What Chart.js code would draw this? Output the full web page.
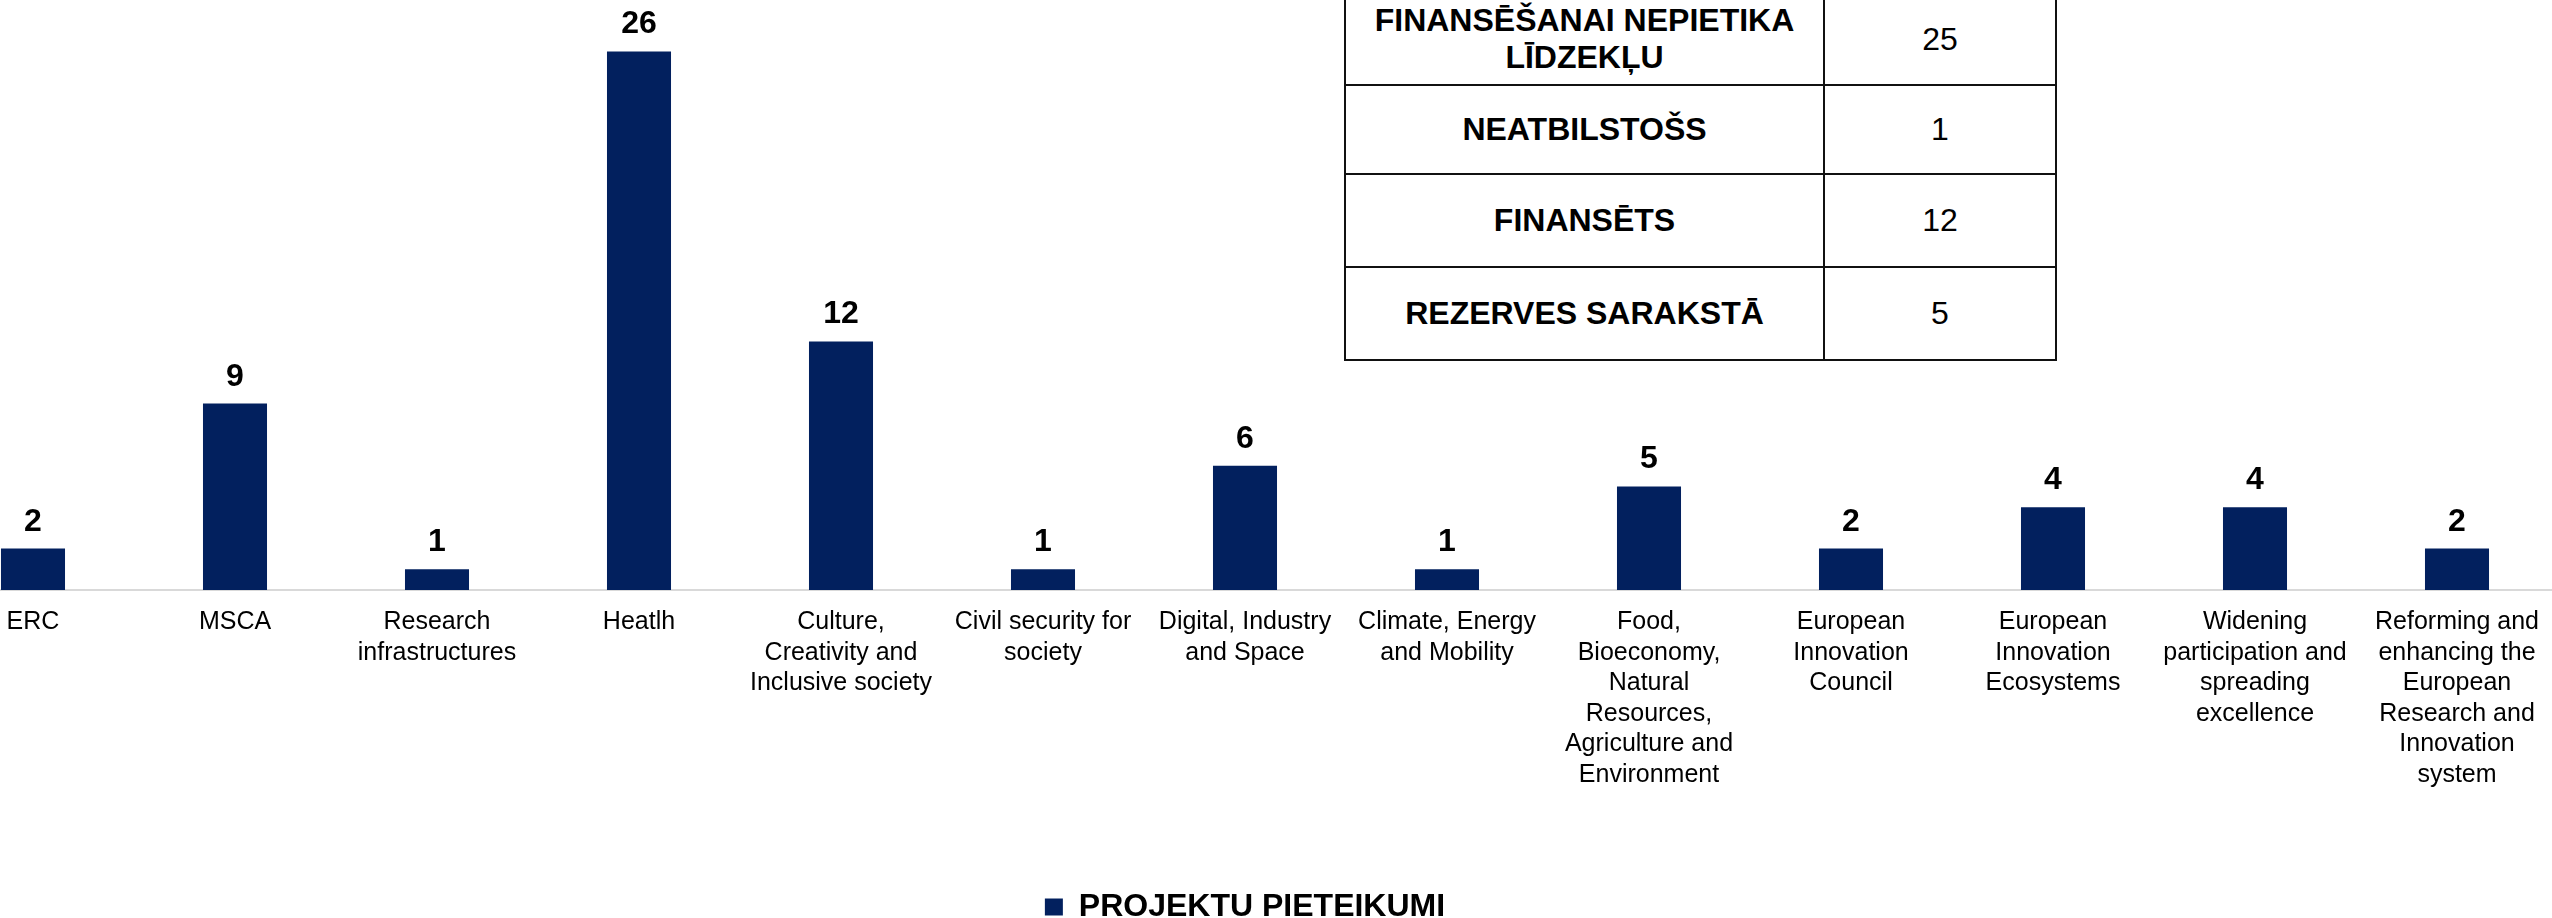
<!DOCTYPE html>
<html>
<head>
<meta charset="utf-8">
<script src="https://cdn.jsdelivr.net/npm/chart.js@4"></script>
<style>
  html, body { margin: 0; padding: 0; background: #fff; overflow: hidden; }
  body { width: 2552px; height: 918px; position: relative; font-family: "Liberation Sans", Arial, sans-serif; }
  #wrap { position: absolute; left: -68px; top: 0; width: 2626px; height: 933px; }
  #statusTable {
    position: absolute; left: 1344px; top: -8px;
    border-collapse: collapse; background: #fff; color: #000;
  }
  #statusTable td { border: 2px solid #111; text-align: center; padding: 0; font-size: 32px; line-height: 37px; }
  #statusTable td.name { width: 477px; font-weight: bold; }
  #statusTable td.val { width: 230px; }
</style>
</head>
<body>
<div id="wrap"><canvas id="chart"></canvas></div>
<table id="statusTable"></table>
<script>
const categories = [
  'ERC',
  'MSCA',
  ['Research', 'infrastructures'],
  'Heatlh',
  ['Culture,', 'Creativity and', 'Inclusive society'],
  ['Civil security for', 'society'],
  ['Digital, Industry', 'and Space'],
  ['Climate, Energy', 'and Mobility'],
  ['Food,', 'Bioeconomy,', 'Natural', 'Resources,', 'Agriculture and', 'Environment'],
  ['European', 'Innovation', 'Council'],
  ['European', 'Innovation', 'Ecosystems'],
  ['Widening', 'participation and', 'spreading', 'excellence'],
  ['Reforming and', 'enhancing the', 'European', 'Research and', 'Innovation', 'system']
];
const seriesName = 'PROJEKTU PIETEIKUMI';
const applications = [2, 9, 1, 26, 12, 1, 6, 1, 5, 2, 4, 4, 2];

const statusLabels = [['FINANSĒŠANAI NEPIETIKA', 'LĪDZEKĻU'], 'NEATBILSTOŠS', 'FINANSĒTS', 'REZERVES SARAKSTĀ'];
const statusValues = [25, 1, 12, 5];
const rowHeights = [90, 87, 91, 91];

// side table
const table = document.getElementById('statusTable');
statusLabels.forEach((lbl, i) => {
  const tr = document.createElement('tr');
  const a = document.createElement('td');
  a.className = 'name';
  a.innerHTML = [].concat(lbl).join('<br>');
  a.style.height = rowHeights[i] + 'px';
  const b = document.createElement('td');
  b.className = 'val';
  b.textContent = statusValues[i];
  tr.appendChild(a);
  tr.appendChild(b);
  table.appendChild(tr);
});

Chart.defaults.font.family = '"Liberation Sans", Arial, sans-serif';
Chart.defaults.color = '#000';

const valueLabels = {
  id: 'valueLabels',
  afterDatasetsDraw(chart) {
    const ctx = chart.ctx;
    const meta = chart.getDatasetMeta(0);
    ctx.save();
    ctx.font = 'bold 32px "Liberation Sans", Arial, sans-serif';
    ctx.fillStyle = '#000';
    ctx.textAlign = 'center';
    ctx.textBaseline = 'alphabetic';
    meta.data.forEach((bar, i) => {
      ctx.fillText(applications[i], bar.x, bar.y - 18);
    });
    ctx.restore();
  }
};

new Chart(document.getElementById('chart'), {
  type: 'bar',
  data: {
    labels: categories,
    datasets: [{
      label: seriesName,
      data: applications,
      backgroundColor: '#02205e',
      categoryPercentage: 1,
      barPercentage: 0.317
    }]
  },
  options: {
    responsive: true,
    maintainAspectRatio: false,
    animation: false,
    layout: { padding: { top: 10, left: 0, right: 0, bottom: 0 } },
    plugins: {
      legend: {
        position: 'bottom',
        labels: {
          font: { size: 32, weight: 'bold' },
          boxWidth: 18,
          boxHeight: 17,
          padding: 10,
          color: '#000'
        }
      },
      tooltip: { enabled: false }
    },
    scales: {
      x: {
        grid: { display: false, drawTicks: false },
        border: { display: true, color: '#d9d9d9', width: 2 },
        ticks: {
          autoSkip: false,
          maxRotation: 0,
          minRotation: 0,
          padding: 17,
          font: { size: 25, lineHeight: 1.22 },
          color: '#000'
        },
        afterFit(scale) { scale.height = 291; }
      },
      y: {
        display: false,
        min: 0,
        max: 28
      }
    }
  },
  plugins: [valueLabels]
});
</script>
</body>
</html>
